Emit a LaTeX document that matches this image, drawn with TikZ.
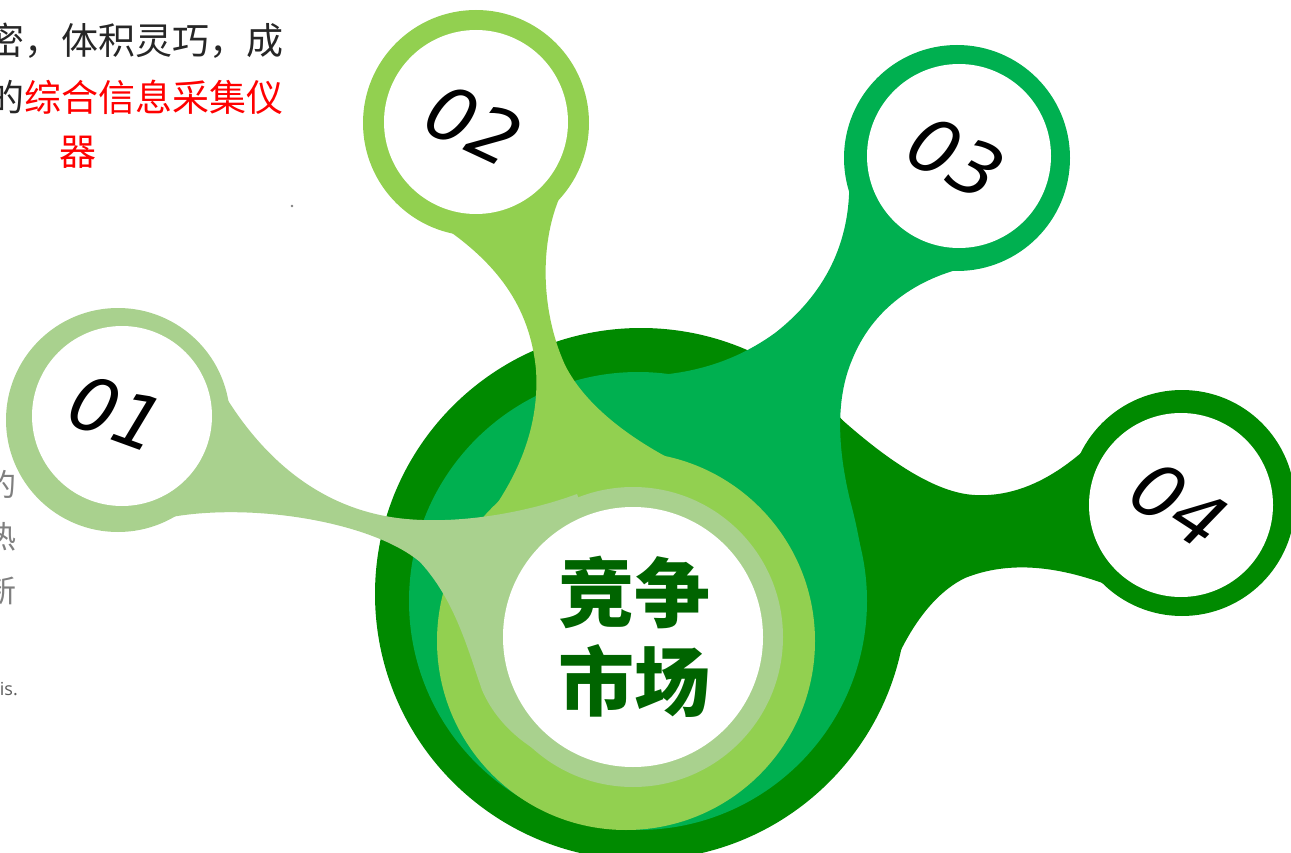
\documentclass[tikz,border=0pt]{standalone}
\usepackage{fontspec}
\usepackage{xcolor}
\usepackage{tikz}
\newfontfamily\cjk{Noto Sans CJK SC}
\newfontfamily\numfont{DejaVu Sans}
\newfontfamily\latinfont{Open Sans}
\definecolor{darkg}{HTML}{008A00}
\definecolor{midg}{HTML}{00B050}
\definecolor{lightg}{HTML}{92D050}
\definecolor{paleg}{HTML}{A9D18E}
\definecolor{labelg}{HTML}{006400}
\definecolor{textgray}{HTML}{262626}
\definecolor{sidegray}{HTML}{7F7F7F}

\tikzset{
  hole/.style={fill=white},
  numtag/.style={font=\numfont\itshape\fontsize{74}{74}\selectfont, inner sep=0, text=black},
  introtext/.style={font=\cjk\fontsize{37}{37}\selectfont, inner sep=0, text=textgray},
  sidetext/.style={font=\cjk\fontsize{31}{31}\selectfont, inner sep=0, text=sidegray},
}

\begin{document}
\begin{tikzpicture}[x=1pt,y=-1pt]
    \useasboundingbox (0,0) rectangle (1291,853);
    \fill[white] (0,0) rectangle (1291,853);

    % Intro text (cut at the left border)
    \node[introtext,anchor=east] (introA) at (284,41) {密，体积灵巧，成};
    \node[introtext,anchor=east] (introB) at (284,97) {的\textcolor{red}{综合信息采集仪}};
    \node[introtext,text=red] (introC) at (78,152) {器};
    \fill[gray] (292,206) circle (1.3);

    % Side text (cut at the left border)
    \node[sidetext,anchor=east] (sideA) at (17,484) {的};
    \node[sidetext,anchor=east] (sideB) at (17,537) {热};
    \node[sidetext,anchor=east] (sideC) at (17,591) {新};
    \node[font=\latinfont\fontsize{18}{18}\selectfont,text=textgray!75,inner sep=0,anchor=base east] (sideD) at (18,695) {is.};

    % 04: dark green body
    \fill[darkg] (641,594) circle (266);
    \fill[darkg] (1090,445) .. controls (1050,482) and (1012,497) .. (975,495)
        .. controls (930,493) and (870,450) .. (800,380) -- (641,594) -- (880,703)
        .. controls (893,660) and (920,600) .. (965,578)
        .. controls (1010,560) and (1060,566) .. (1116,588) -- (1182,503) -- cycle;
    \fill[darkg] (1182,503) circle (113);

    % 03: green body
    \fill[midg] (638,601) circle (229);
    \fill[midg] (849,174) .. controls (852,235) and (830,290) .. (775,333)
        .. controls (735,362) and (690,375) .. (640,376) -- (638,601) -- (864,590)
        .. controls (864,560) and (858,530) .. (850,500)
        .. controls (838,450) and (835,400) .. (852,360)
        .. controls (872,310) and (915,278) .. (972,266) -- (957,158) -- cycle;
    \fill[midg] (957,158) circle (113);

    % 02: light green body
    \fill[lightg] (626,641) circle (189);
    \fill[lightg] (442,226) .. controls (495,262) and (530,305) .. (536,370)
        .. controls (540,430) and (515,480) .. (487,518) -- (626,641) -- (688,468)
        .. controls (630,440) and (585,405) .. (565,365)
        .. controls (540,310) and (538,235) .. (566,184) -- (476,123) -- cycle;
    \fill[lightg] (476,123) circle (113);

    % 01: pale green body
    \fill[paleg] (633,637) circle (150);
    \fill[paleg] (221,389) .. controls (258,452) and (310,500) .. (380,515)
        .. controls (440,528) and (520,515) .. (577,494) -- (633,637) -- (560,763)
        .. controls (520,745) and (495,720) .. (482,690)
        .. controls (468,650) and (455,600) .. (420,562)
        .. controls (370,520) and (240,500) .. (157,520) -- (118,420) -- cycle;
    \fill[paleg] (118,420) circle (112);

    % White holes
    \fill[hole] (633,637) circle (130);
    \fill[hole] (122,416) circle (90);
    \fill[hole] (476,122) circle (92);
    \fill[hole] (959,156) circle (92);
    \fill[hole] (1181,505) circle (92);

    % Labels
    \node[numtag,rotate=-20] (one) at (117,413) {01};
    \node[numtag,rotate=-25] (two) at (474,125) {02};
    \node[numtag,rotate=-28] (three) at (956,158) {03};
    \node[numtag,rotate=-33] (four) at (1179,505) {04};
    \node[font=\cjk\bfseries\fontsize{76}{89}\selectfont,text=labelg,align=center,inner sep=0] (market) at (634,637) {竞争\\市场};

\end{tikzpicture}
\end{document}
